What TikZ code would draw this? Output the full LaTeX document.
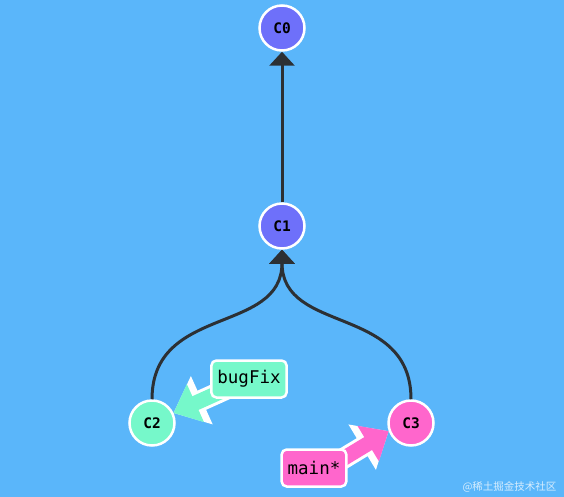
\documentclass[tikz,border=0pt]{standalone}
\usepackage{fontspec}
\setmonofont{DejaVu Sans Mono}
\newfontfamily\cjk{Noto Sans CJK SC}
\usetikzlibrary{arrows.meta}

\definecolor{sky}{RGB}{90,182,250}
\definecolor{violet}{RGB}{110,112,250}
\definecolor{aqua}{RGB}{118,248,202}
\definecolor{rose}{RGB}{255,102,204}
\definecolor{edgegray}{RGB}{44,48,52}

\begin{document}
\begin{tikzpicture}[x=1pt, y=-1pt,
  commit/.style={circle, draw=white, line width=2.5pt, minimum size=45pt, inner sep=0pt, font=\ttfamily\bfseries\fontsize{14.5}{14.5}\selectfont},
  branch/.style={rounded corners=5pt, draw=white, line width=2.5pt, inner xsep=6pt, minimum height=37pt, font=\ttfamily\fontsize{17.5}{17.5}\selectfont},
  parent/.style={draw=edgegray, line width=3pt, -{Triangle[length=14pt, width=25pt]}},
  fatarrow/.style={line width=15pt, draw=#1, -{Triangle[length=24pt, width=40pt]},
    preaction={draw=white, line width=21pt, -{Triangle[length=31pt, width=51pt]}}}]
\fill[sky] (0,0) rectangle (564,497);
\useasboundingbox (0,0) rectangle (564,497);

\node[commit, fill=violet] (c0) at (282, 28) {C0};
\node[commit, fill=violet] (c1) at (282, 226) {C1};
\node[commit, fill=aqua] (c2) at (152, 423) {C2};
\node[commit, fill=rose] (c3) at (411, 423) {C3};

\draw[parent] (c1) -- (c0);
\draw[parent] (c2.north) .. controls +(0,-95) and +(0,85) .. (c1.south);
\draw[parent] (c3.north) .. controls +(0,-95) and +(0,85) .. (c1.south);

\coordinate (bugtail) at (240, 383);
\coordinate (maintail) at (336, 463);
\draw[fatarrow=aqua] (bugtail) -- (c2.25);
\draw[fatarrow=rose] (maintail) -- (c3.200);
\node[branch, fill=aqua] (bugfix) at (249, 379) {bugFix};
\node[branch, fill=rose] (main) at (314, 468) {main*};

\node[anchor=east, text=white, opacity=0.75, font=\cjk\fontsize{10.5}{10.5}\selectfont] (mark) at (560, 487) {@稀土掘金技术社区};
\end{tikzpicture}
\end{document}
